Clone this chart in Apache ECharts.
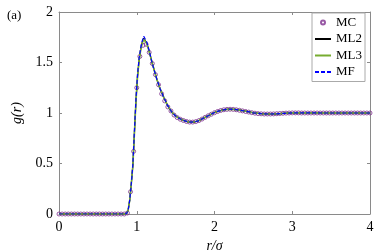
<!DOCTYPE html>
<html>
<head>
<meta charset="utf-8">
<script src="https://cdn.jsdelivr.net/npm/echarts@6/dist/echarts.min.js"></script>
<style>
  html, body { margin: 0; padding: 0; background: #fff; }
  #chart { width: 390px; height: 252px; }
</style>
</head>
<body>
<div id="chart"></div>
<script>
// MC samples (markers)
const mcR = [0, 0.04, 0.08, 0.12, 0.16, 0.2, 0.24, 0.28, 0.32, 0.36, 0.4, 0.44, 0.48, 0.52, 0.56, 0.6, 0.64, 0.68, 0.72, 0.76, 0.8, 0.84,
  0.88, 0.92, 0.96, 1.0, 1.04, 1.08, 1.12, 1.16, 1.2, 1.24, 1.28, 1.32, 1.36, 1.4, 1.44, 1.48, 1.52, 1.56, 1.6, 1.64, 1.68, 1.72, 1.76, 1.8,
  1.84, 1.88, 1.92, 1.96, 2.0, 2.04, 2.08, 2.12, 2.16, 2.2, 2.24, 2.28, 2.32, 2.36, 2.4, 2.44, 2.48, 2.52, 2.56, 2.6, 2.64, 2.68, 2.72,
  2.76, 2.8, 2.84, 2.88, 2.92, 2.96, 3.0, 3.04, 3.08, 3.12, 3.16, 3.2, 3.24, 3.28, 3.32, 3.36, 3.4, 3.44, 3.48, 3.52, 3.56, 3.6, 3.64,
  3.68, 3.72, 3.76, 3.8, 3.84, 3.88, 3.92, 3.96, 4.0]
const mcG = [0, 0, 0, 0, 0, 0, 0, 0, 0, 0, 0, 0, 0, 0, 0, 0, 0, 0, 0, 0, 0, 0,
  0.01, 0.22, 0.62, 1.25, 1.56, 1.67, 1.68, 1.6, 1.49, 1.38, 1.28, 1.19, 1.12, 1.06, 1.02, 0.98, 0.955, 0.938, 0.926, 0.916, 0.91, 0.91,
  0.915, 0.925, 0.94, 0.957, 0.973, 0.988, 1.003, 1.015, 1.025, 1.032, 1.036, 1.037, 1.036, 1.032, 1.027, 1.021, 1.015, 1.009, 1.003,
  0.998, 0.994, 0.992, 0.99, 0.99, 0.99, 0.991, 0.993, 0.995, 0.997, 0.999, 1.0, 1.001, 1.001, 1.001, 1.0, 1.0, 1.0, 1.0, 1.0, 1.0, 1.0,
  1.0, 1.0, 1.0, 1.0, 1.0, 1.0, 1.0, 1.0, 1.0, 1.0, 1.0, 1.0, 1.0, 1.0, 1.0, 1.0]

// model curves
const lineR = [0, 0.5, 0.84, 0.87, 0.89, 0.91, 0.93, 0.95, 0.97, 0.99, 1.01, 1.03, 1.05, 1.07, 1.09, 1.11, 1.13, 1.15, 1.17, 1.2,
  1.23, 1.26, 1.3, 1.35, 1.4, 1.45, 1.5, 1.55, 1.6, 1.65, 1.7, 1.75, 1.8, 1.85, 1.9, 1.95, 2.0, 2.05, 2.1, 2.15, 2.2, 2.25, 2.3,
  2.4, 2.5, 2.6, 2.7, 2.8, 2.9, 3.0, 3.2, 3.4, 3.6, 3.8, 4.0]
const ml2G = [0, 0, 0, 0.005, 0.04, 0.14, 0.3, 0.48, 0.8, 1.12, 1.36, 1.52, 1.63, 1.7, 1.74, 1.73, 1.69, 1.64, 1.58, 1.49,
  1.41, 1.33, 1.24, 1.15, 1.07, 1.01, 0.97, 0.945, 0.927, 0.915, 0.91, 0.913, 0.925, 0.945, 0.965, 0.985, 1.005, 1.018, 1.028,
  1.035, 1.038, 1.036, 1.031, 1.018, 1.002, 0.993, 0.99, 0.992, 0.997, 1.001, 1.002, 1.0, 1.0, 1.0, 1.0]
const ml3G = [0, 0, 0, 0.005, 0.04, 0.14, 0.3, 0.48, 0.8, 1.12, 1.36, 1.52, 1.62, 1.69, 1.73, 1.72, 1.685, 1.635, 1.58, 1.49,
  1.41, 1.33, 1.24, 1.15, 1.07, 1.01, 0.97, 0.945, 0.927, 0.915, 0.91, 0.913, 0.925, 0.945, 0.965, 0.985, 1.005, 1.018, 1.028,
  1.035, 1.038, 1.036, 1.031, 1.018, 1.002, 0.993, 0.99, 0.992, 0.997, 1.001, 1.002, 1.0, 1.0, 1.0, 1.0]
const mfG = [0, 0, 0, 0.005, 0.04, 0.14, 0.3, 0.49, 0.82, 1.14, 1.38, 1.54, 1.64, 1.71, 1.76, 1.75, 1.7, 1.645, 1.585, 1.49,
  1.41, 1.33, 1.24, 1.15, 1.07, 1.01, 0.97, 0.945, 0.927, 0.915, 0.91, 0.913, 0.925, 0.945, 0.965, 0.985, 1.005, 1.018, 1.028,
  1.035, 1.038, 1.036, 1.031, 1.018, 1.002, 0.993, 0.99, 0.992, 0.997, 1.001, 1.002, 1.0, 1.0, 1.0, 1.0]

const pairs = (xs, ys) => xs.map((x, i) => [x, ys[i]])
const serif = 'Liberation Serif'
const axisGray = '#8a8a8a'

const chart = echarts.init(document.getElementById('chart'))

const baseAxis = {
  type: 'value',
  axisLine: { show: true, onZero: false, lineStyle: { color: axisGray, width: 1 } },
  axisTick: { show: true, inside: true, length: 3, lineStyle: { color: axisGray } },
  splitLine: { show: false },
  axisLabel: { color: '#000', fontFamily: serif, fontSize: 14 }
}

chart.setOption({
  animation: false,
  backgroundColor: '#fff',
  grid: { left: 59, right: 20, top: 12, bottom: 38, containLabel: false, outerBoundsMode: 'none' },
  xAxis: [
    Object.assign({}, baseAxis, {
      min: 0, max: 4, interval: 1,
      axisLabel: Object.assign({}, baseAxis.axisLabel, { margin: 6 }),
      name: 'r/σ', nameLocation: 'middle', nameGap: 19,
      nameTextStyle: { color: '#000', fontFamily: serif, fontSize: 14, fontStyle: 'italic' }
    }),
    Object.assign({}, baseAxis, {
      min: 0, max: 4, interval: 1, position: 'top',
      axisLabel: { show: false }
    })
  ],
  yAxis: [
    Object.assign({}, baseAxis, {
      min: 0, max: 2, interval: 0.5,
      axisLabel: Object.assign({}, baseAxis.axisLabel, { margin: 6 }),
      name: 'g(r)', nameLocation: 'middle', nameGap: 34,
      nameTextStyle: { color: '#000', fontFamily: serif, fontSize: 14, fontStyle: 'italic' }
    }),
    Object.assign({}, baseAxis, {
      min: 0, max: 2, interval: 0.5, position: 'right',
      axisLabel: { show: false }
    })
  ],
  legend: {
    orient: 'vertical',
    right: 25,
    top: 13,
    padding: [2, 3, 2, 2],
    itemGap: 1.5,
    itemWidth: 16,
    itemHeight: 4,
    backgroundColor: '#fff',
    borderColor: '#aaa',
    borderWidth: 1,
    borderRadius: 0,
    textStyle: { color: '#000', fontFamily: serif, fontSize: 13, lineHeight: 15 },
    data: [
      { name: 'MC' },
      { name: 'ML2', itemStyle: { opacity: 0 } },
      { name: 'ML3', itemStyle: { opacity: 0 } },
      { name: 'MF', itemStyle: { opacity: 0 } }
    ]
  },
  graphic: [
    { type: 'text', left: 7, top: 9, style: { text: '(a)', fontFamily: serif, fontSize: 13, fill: '#000' } }
  ],
  series: [
    {
      name: 'MC', type: 'scatter', data: pairs(mcR, mcG),
      symbol: 'circle', symbolSize: 4,
      itemStyle: { color: 'rgba(255,255,255,0)', borderColor: '#7e2f8e', borderWidth: 1 },
      z: 1
    },
    {
      name: 'ML2', type: 'line', data: pairs(lineR, ml2G), symbol: 'none',
      lineStyle: { color: '#000', width: 1.2 }, itemStyle: { color: '#000' }, z: 2
    },
    {
      name: 'ML3', type: 'line', data: pairs(lineR, ml3G), symbol: 'none',
      lineStyle: { color: '#77ac30', width: 1.6 }, itemStyle: { color: '#77ac30' }, z: 3
    },
    {
      name: 'MF', type: 'line', data: pairs(lineR, mfG), symbol: 'none',
      lineStyle: { color: '#0000ff', width: 1.2, type: [4, 2] }, itemStyle: { color: '#0000ff' }, z: 4
    }
  ]
})
</script>
</body>
</html>
